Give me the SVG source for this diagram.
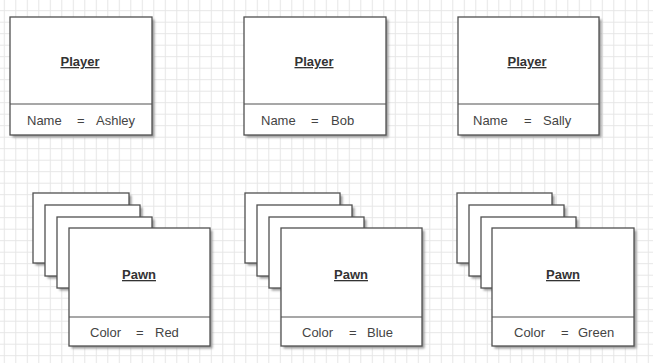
<svg xmlns="http://www.w3.org/2000/svg" width="653" height="363" viewBox="0 0 653 363">
<defs>
<pattern id="grid" x="3.8" y="10.2" width="11.5" height="11.5" patternUnits="userSpaceOnUse">
<path d="M0.5 0 V11.5 M0 0.5 H11.5" fill="none" stroke="#e6e6e6" stroke-width="1"/>
</pattern>
<filter id="sh" x="-10%" y="-10%" width="130%" height="130%">
<feGaussianBlur stdDeviation="1"/>
</filter>
</defs>
<style>
.box{fill:#ffffff;stroke:#505050;stroke-width:1.3}
.shadow{fill:#9a9a9a;filter:url(#sh)}
.div{stroke:#505050;stroke-width:1.2}
.title{font-family:"Liberation Sans",Arial,sans-serif;font-size:13px;font-weight:bold;fill:#333;text-decoration:underline}
.attr{font-family:"Liberation Sans",Arial,sans-serif;font-size:13px;fill:#444}
</style>
<rect width="653" height="363" fill="#ffffff"/>
<rect width="653" height="363" fill="url(#grid)"/>

<g id="player-ashley">
<rect class="shadow" x="12.5" y="19.5" width="142" height="118"/>
<rect class="box" x="10" y="17" width="142" height="118"/>
<line class="div" x1="10" y1="104" x2="152" y2="104"/>
<text class="title" x="80" y="66" text-anchor="middle">Player</text>
<text class="attr" y="125"><tspan x="27">Name</tspan><tspan x="77">=</tspan><tspan x="96">Ashley</tspan></text>
</g>

<g id="player-bob">
<rect class="shadow" x="246.5" y="19.5" width="142" height="118"/>
<rect class="box" x="244" y="17" width="142" height="118"/>
<line class="div" x1="244" y1="104" x2="386" y2="104"/>
<text class="title" x="314" y="66" text-anchor="middle">Player</text>
<text class="attr" y="125"><tspan x="261">Name</tspan><tspan x="311">=</tspan><tspan x="331">Bob</tspan></text>
</g>

<g id="player-sally">
<rect class="shadow" x="460.5" y="19.5" width="141" height="118"/>
<rect class="box" x="458" y="17" width="141" height="118"/>
<line class="div" x1="458" y1="104" x2="599" y2="104"/>
<text class="title" x="527" y="66" text-anchor="middle">Player</text>
<text class="attr" y="125"><tspan x="473">Name</tspan><tspan x="524">=</tspan><tspan x="543">Sally</tspan></text>
</g>

<g id="pawn-red">
<rect class="shadow" x="35.5" y="195.5" width="96" height="70"/>
<rect class="box" x="33" y="193" width="96" height="70"/>
<rect class="shadow" x="47.5" y="207.5" width="95" height="71"/>
<rect class="box" x="45" y="205" width="95" height="71"/>
<rect class="shadow" x="59.5" y="219.5" width="95" height="71"/>
<rect class="box" x="57" y="217" width="95" height="71"/>
<rect class="shadow" x="71.5" y="230.5" width="141" height="118"/>
<rect class="box" x="69" y="228" width="141" height="118"/>
<line class="div" x1="69" y1="317" x2="210" y2="317"/>
<text class="title" x="139" y="279" text-anchor="middle">Pawn</text>
<text class="attr" y="337"><tspan x="90">Color</tspan><tspan x="136">=</tspan><tspan x="155">Red</tspan></text>
</g>

<g id="pawn-blue">
<rect class="shadow" x="247.5" y="195.5" width="95" height="70"/>
<rect class="box" x="245" y="193" width="95" height="70"/>
<rect class="shadow" x="259.5" y="207.5" width="95" height="71"/>
<rect class="box" x="257" y="205" width="95" height="71"/>
<rect class="shadow" x="271.5" y="219.5" width="95" height="71"/>
<rect class="box" x="269" y="217" width="95" height="71"/>
<rect class="shadow" x="283.5" y="230.5" width="141" height="118"/>
<rect class="box" x="281" y="228" width="141" height="118"/>
<line class="div" x1="281" y1="317" x2="422" y2="317"/>
<text class="title" x="351" y="279" text-anchor="middle">Pawn</text>
<text class="attr" y="337"><tspan x="302">Color</tspan><tspan x="349">=</tspan><tspan x="367">Blue</tspan></text>
</g>

<g id="pawn-green">
<rect class="shadow" x="459.5" y="195.5" width="95" height="70"/>
<rect class="box" x="457" y="193" width="95" height="70"/>
<rect class="shadow" x="471.5" y="207.5" width="95" height="71"/>
<rect class="box" x="469" y="205" width="95" height="71"/>
<rect class="shadow" x="483.5" y="219.5" width="95" height="71"/>
<rect class="box" x="481" y="217" width="95" height="71"/>
<rect class="shadow" x="494.5" y="230.5" width="142" height="118"/>
<rect class="box" x="492" y="228" width="142" height="118"/>
<line class="div" x1="492" y1="317" x2="634" y2="317"/>
<text class="title" x="563" y="279" text-anchor="middle">Pawn</text>
<text class="attr" y="337"><tspan x="514">Color</tspan><tspan x="561">=</tspan><tspan x="578">Green</tspan></text>
</g>

<g id="connectors"></g>
</svg>
